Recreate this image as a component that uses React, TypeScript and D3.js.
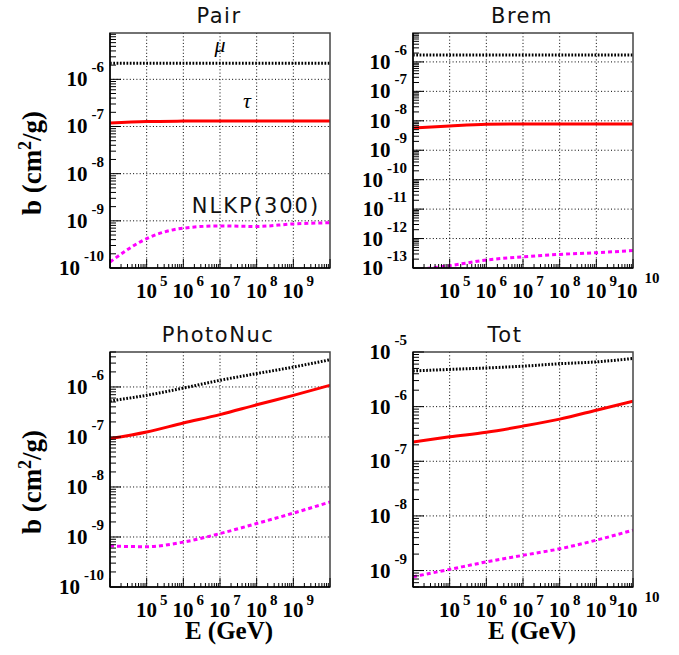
import React from 'react';
import * as d3 from 'd3';

// energies in GeV (decade points)
const energies = [1e4, 1e5, 1e6, 1e7, 1e8, 1e9, 1e10];

// b coefficients (cm^2/g)
const pairMu = [2.2e-6, 2.2e-6, 2.2e-6, 2.2e-6, 2.2e-6, 2.2e-6, 2.2e-6];
const pairTau = [1.18e-7, 1.27e-7, 1.3e-7, 1.31e-7, 1.31e-7, 1.31e-7, 1.31e-7];
const pairNlkp = [1.34e-10, 4.2e-10, 7.0e-10, 7.8e-10, 7.6e-10, 8.6e-10, 9.1e-10];

const bremMu = [1.72e-6, 1.72e-6, 1.72e-6, 1.72e-6, 1.72e-6, 1.72e-6, 1.72e-6];
const bremTau = [5.7e-9, 6.7e-9, 7.6e-9, 7.8e-9, 7.8e-9, 7.8e-9, 7.8e-9];
const bremNlkp = [8.5e-14, 1.2e-13, 1.87e-13, 2.4e-13, 2.9e-13, 3.3e-13, 3.9e-13];

const photoMu = [5.25e-7, 6.8e-7, 9.5e-7, 1.36e-6, 1.85e-6, 2.5e-6, 3.5e-6];
const photoTau = [9.3e-8, 1.26e-7, 1.9e-7, 2.8e-7, 4.4e-7, 6.8e-7, 1.08e-6];
const photoNlkp = [6.6e-10, 6.4e-10, 7.9e-10, 1.17e-9, 1.86e-9, 3.0e-9, 5.0e-9];

const totMu = [4.5e-6, 4.8e-6, 5.1e-6, 5.5e-6, 6.1e-6, 6.6e-6, 7.6e-6];
const totTau = [2.25e-7, 2.8e-7, 3.4e-7, 4.4e-7, 5.9e-7, 8.6e-7, 1.26e-6];
const totNlkp = [7.7e-10, 1.05e-9, 1.44e-9, 1.9e-9, 2.5e-9, 3.6e-9, 5.5e-9];

const titles = ['Pair', 'Brem', 'PhotoNuc', 'Tot'];

const W = 220;
const H = 235;
const serif = "'Liberation Serif', 'Times New Roman', serif";
const gothic = "'DejaVu Sans', sans-serif";

// black dotted = mu, red = tau, magenta dashed = NLKP(300)
const lineStyles = [
  { stroke: '#000000', width: 3, dash: '1.7,1.6' },
  { stroke: '#ff0000', width: 3, dash: undefined },
  { stroke: '#ff00ff', width: 3, dash: '4,3' },
];

const panels = [
  { title: titles[0], left: 110, top: 33, titleX: 219, yDomain: [1e-10, 9.6e-6], series: [pairMu, pairTau, pairNlkp], lastX: 9, yTitle: true, xTitle: false },
  { title: titles[1], left: 413, top: 33, titleX: 522, yDomain: [1e-13, 9.6e-6], series: [bremMu, bremTau, bremNlkp], lastX: 10, yTitle: false, xTitle: false },
  { title: titles[2], left: 110, top: 352, titleX: 218, yDomain: [1e-10, 5e-6], series: [photoMu, photoTau, photoNlkp], lastX: 9, yTitle: true, xTitle: true },
  { title: titles[3], left: 413, top: 352, titleX: 505, yDomain: [5e-10, 1e-5], series: [totMu, totTau, totNlkp], lastX: 10, yTitle: false, xTitle: true },
];

function Panel({ p, idx }) {
  const x = d3.scaleLog().domain([1e4, 1e10]).range([p.left, p.left + W]);
  const y = d3.scaleLog().domain(p.yDomain).range([p.top + H, p.top]);
  const bottom = p.top + H;
  const right = p.left + W;

  const line = d3.line<number>()
    .x((_, i) => x(energies[i]))
    .y(d => y(d))
    .curve(d3.curveMonotoneX);

  // decades and minor ticks on the y axis
  const [y0, y1] = p.yDomain;
  const yMajor = [];
  const yMinor = [];
  for (let k = Math.floor(Math.log10(y0)); k <= Math.ceil(Math.log10(y1)); k++) {
    for (let m = 1; m <= 9; m++) {
      const v = m * Math.pow(10, k);
      if (v < y0 * 0.999 || v > y1 * 1.001) continue;
      if (m === 1) yMajor.push(k); else yMinor.push(v);
    }
  }
  const xMajor = [];
  const xMinor = [];
  for (let k = 4; k <= 10; k++) {
    for (let m = 1; m <= 9; m++) {
      const v = m * Math.pow(10, k);
      if (v > 1e10 * 1.001) continue;
      if (m === 1) xMajor.push(k); else xMinor.push(v);
    }
  }
  const clipId = `clip${idx}`;

  return (
    <g>
      <defs>
        <clipPath id={clipId}>
          <rect x={p.left} y={p.top} width={W} height={H} />
        </clipPath>
      </defs>
      <text x={p.titleX} y={p.top - 10} textAnchor="middle" fontFamily={gothic} fontSize={21} letterSpacing={1.5} fill="#111">{p.title}</text>

      {/* grid */}
      {yMajor.filter(k => k > Math.log10(y0) + 0.01 && k < Math.log10(y1) - 0.01).map(k => (
        <line key={'gy' + k} x1={p.left} x2={right} y1={y(Math.pow(10, k))} y2={y(Math.pow(10, k))} stroke="#000" strokeWidth={1} strokeDasharray="1,2.3" />
      ))}
      {xMajor.filter(k => k > 4 && k < 10).map(k => (
        <line key={'gx' + k} x1={x(Math.pow(10, k))} x2={x(Math.pow(10, k))} y1={p.top} y2={bottom} stroke="#000" strokeWidth={1} strokeDasharray="1,2.3" />
      ))}

      {/* curves */}
      <g clipPath={`url(#${clipId})`}>
        {p.series.map((s, i) => (
          <path key={i} d={line(s)} fill="none" stroke={lineStyles[i].stroke} strokeWidth={lineStyles[i].width} strokeDasharray={lineStyles[i].dash} />
        ))}
      </g>

      {/* frame */}
      <rect x={p.left} y={p.top} width={W} height={H} fill="none" stroke="#444" strokeWidth={1.5} />
      <line x1={p.left} x2={p.left} y1={p.top} y2={bottom} stroke="#000" strokeWidth={1.5} />
      <line x1={p.left} x2={right} y1={bottom} y2={bottom} stroke="#000" strokeWidth={1.5} />

      {/* y ticks */}
      {yMajor.map(k => (
        <line key={'yM' + k} x1={p.left} x2={p.left + 11} y1={y(Math.pow(10, k))} y2={y(Math.pow(10, k))} stroke="#000" strokeWidth={1} />
      ))}
      {yMinor.map(v => (
        <line key={'ym' + v} x1={p.left} x2={p.left + 6} y1={y(v)} y2={y(v)} stroke="#000" strokeWidth={1} />
      ))}
      {yMajor.map(k => (
        <text key={'yl' + k} x={p.left - 6} y={y(Math.pow(10, k)) + 7} textAnchor="end" fontFamily={serif} fontWeight="bold" fontSize={21} fill="#000">
          10<tspan dx={4} dy={-14} fontSize={15}>{String(k)}</tspan>
        </text>
      ))}

      {/* x ticks */}
      {xMajor.map(k => (
        <line key={'xM' + k} x1={x(Math.pow(10, k))} x2={x(Math.pow(10, k))} y1={bottom} y2={bottom - 9} stroke="#000" strokeWidth={1} />
      ))}
      {xMinor.map(v => (
        <line key={'xm' + v} x1={x(v)} x2={x(v)} y1={bottom} y2={bottom - 4} stroke="#000" strokeWidth={1} />
      ))}
      {xMajor.filter(k => k >= 5 && k <= p.lastX).map(k => (
        <text key={'xl' + k} x={x(Math.pow(10, k)) + 5} y={bottom + 30} textAnchor="middle" fontFamily={serif} fontWeight="bold" fontSize={21} fill="#000">
          10<tspan dx={k === 10 ? 7 : 3} dy={k === 10 ? -15 : -12} fontSize={15}>{String(k)}</tspan>
        </text>
      ))}

      {p.yTitle && (
        <text transform={`translate(41,${p.top + 130}) rotate(-90)`} textAnchor="middle" fontFamily={serif} fontWeight="bold" fontSize={27} fill="#000">
          b (cm<tspan dy={-10} fontSize={18}>2</tspan><tspan dy={10}>/g)</tspan>
        </text>
      )}
      {p.xTitle && (
        <text x={p.left + W / 2 + 9} y={bottom + 52} textAnchor="middle" fontFamily={serif} fontWeight="bold" fontSize={25} fill="#000">E (GeV)</text>
      )}
    </g>
  );
}

export default function App() {
  return (
    <svg width={679} height={655} style={{ position: 'absolute', left: 0, top: 0, background: '#fff' }}>
      <rect x={0} y={0} width={679} height={655} fill="#fff" />
      {panels.map((p, i) => <Panel key={p.title} p={p} idx={i} />)}
      {/* curve labels in the Pair panel */}
      <text x={220} y={52} textAnchor="middle" fontFamily={serif} fontStyle="italic" fontSize={22} fill="#000">μ</text>
      <text x={247} y={108} textAnchor="middle" fontFamily={serif} fontStyle="italic" fontSize={22} fill="#000">τ</text>
      <text x={256} y={213} textAnchor="middle" fontFamily={gothic} fontSize={21} letterSpacing={2} fill="#111">NLKP(300)</text>
    </svg>
  );
}
